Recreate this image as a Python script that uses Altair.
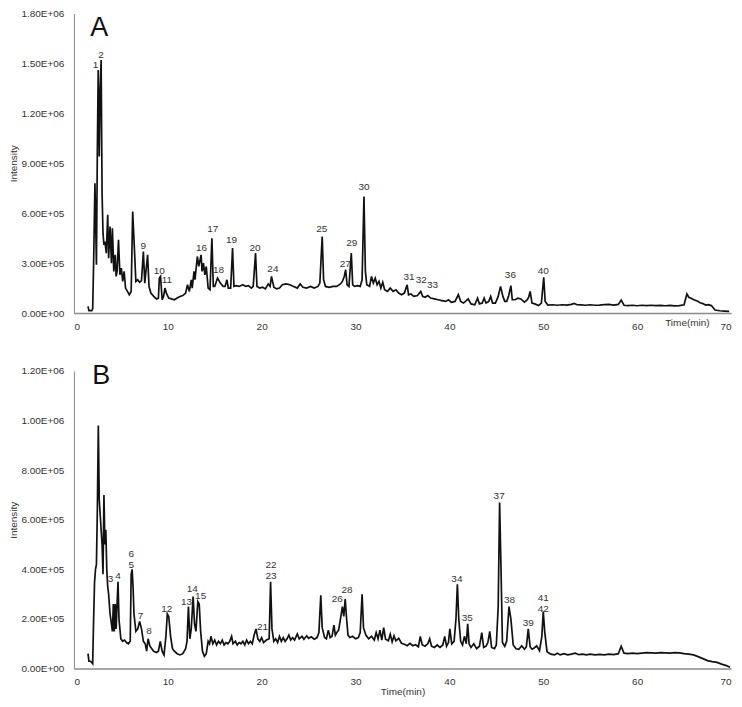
import altair as alt
import pandas as pd

# ---------------- Panel A trace (time in min, intensity in thousands) ----------------
A_TIME = [
    1.5, 1.6, 1.9, 2.0, 2.1, 2.24, 2.4, 2.5, 2.59, 2.65,
    2.7, 2.8, 2.9, 3.0, 3.1, 3.2, 3.3, 3.45, 3.6, 3.7,
    3.85, 4.0, 4.1, 4.25, 4.4, 4.5, 4.6, 4.75, 4.9, 5.05,
    5.2, 5.35, 5.5, 5.7, 5.9, 6.1, 6.26, 6.45, 6.6, 6.8,
    7.0, 7.2, 7.4, 7.55, 7.85, 8.0, 8.2, 8.5, 8.8, 9.0,
    9.1, 9.23, 9.4, 9.55, 9.7, 9.85, 10.1, 10.4, 10.7, 11.0,
    11.3, 11.6, 11.9, 12.1, 12.3, 12.5, 12.6, 12.8, 12.9, 13.15,
    13.3, 13.55, 13.65, 13.8, 13.95, 14.1, 14.3, 14.5, 14.7, 14.85,
    15.0, 15.3, 15.6, 15.9, 16.1, 16.3, 16.45, 16.7, 16.9, 17.05,
    17.3, 17.6, 18.0, 18.3, 18.6, 18.9, 19.1, 19.35, 19.5, 19.8,
    20.1, 20.4, 20.7, 20.9, 21.05, 21.3, 21.6, 21.9, 22.2, 22.6,
    23.0, 23.4, 23.8, 24.1, 24.4, 24.8, 25.2, 25.6, 26.0, 26.2,
    26.45, 26.6, 26.8, 27.2, 27.6, 28.0, 28.4, 28.6, 28.8, 28.95,
    29.1, 29.3, 29.55, 29.7, 29.9, 30.2, 30.5, 30.7, 30.9, 31.05,
    31.2, 31.5, 31.7, 31.9, 32.1, 32.3, 32.5, 32.7, 32.9, 33.1,
    33.4, 33.7, 34.0, 34.3, 34.6, 34.9, 35.2, 35.5, 35.65, 35.9,
    36.2, 36.6, 36.95, 37.15, 37.4, 37.7, 38.0, 38.4, 38.8, 39.2,
    39.6, 39.9, 40.2, 40.6, 40.95, 41.2, 41.5, 41.8, 42.0, 42.3,
    42.7, 43.0, 43.2, 43.5, 43.7, 43.9, 44.2, 44.4, 44.6, 44.9,
    45.2, 45.45, 45.7, 45.9, 46.1, 46.3, 46.55, 46.7, 47.0, 47.3,
    47.6, 48.0, 48.3, 48.45, 48.6, 48.8, 49.1, 49.5, 49.8, 50.05,
    50.2, 50.5, 51.0, 51.5, 52.0, 52.5, 53.0, 53.3, 53.6, 54.0,
    54.5, 55.0, 55.5, 56.0, 56.5, 57.0, 57.5, 58.0, 58.3, 58.6,
    59.0, 59.5, 60.0, 60.5, 61.0, 61.5, 62.0, 62.5, 63.0, 63.5,
    64.0, 64.5, 65.0, 65.3, 65.5, 65.8, 66.1, 66.4, 66.7, 67.0,
    67.3, 67.6, 67.9, 68.3, 68.8, 69.3, 69.8,
]
A_INTENSITY = [
    40, 15, 15, 25, 300, 780, 290, 1000, 1460, 1150,
    940, 1350, 1520, 720, 480, 410, 430, 360, 590, 330,
    520, 300, 510, 250, 350, 220, 250, 440, 230, 270,
    190, 250, 150, 130, 110, 130, 610, 380, 190, 200,
    185, 195, 370, 180, 350, 160, 120, 100, 85, 90,
    210, 220, 80, 100, 150, 120, 90, 85, 80, 90,
    100, 105, 120, 170, 130, 200, 150, 250, 200, 340,
    280, 350, 250, 300, 230, 280, 150, 140, 450, 160,
    160, 210, 180, 160, 160, 200, 150, 150, 390, 160,
    165, 160, 170, 160, 165, 150, 160, 360, 160, 150,
    155, 145, 175, 160, 220, 155, 145, 150, 170, 175,
    170, 160, 150, 175, 155, 150, 160, 150, 160, 180,
    460, 200, 160, 155, 160, 160, 175, 190, 220, 260,
    170, 160, 360, 170, 160, 165, 160, 200, 700, 250,
    170, 160, 220, 180, 210, 170, 190, 150, 185, 140,
    130, 150, 130, 140, 120, 110, 120, 170, 110, 115,
    100, 105, 130, 100, 95, 105, 90, 85, 80, 75,
    70, 80, 65, 70, 110, 70, 60, 75, 85, 55,
    50, 90, 55, 60, 90, 60, 70, 100, 60, 60,
    100, 160, 100, 70, 70, 100, 165, 80, 80, 90,
    85, 65, 80, 95, 130, 60, 55, 45, 60, 215,
    70, 48, 50, 47, 50, 48, 52, 58, 50, 49,
    47, 50, 47, 48, 51, 52, 48, 52, 78, 47,
    45, 47, 44, 47, 45, 47, 45, 46, 44, 46,
    43, 45, 50, 115, 95, 88, 78, 72, 62, 57,
    48, 50, 45, 18, 14, 12, 10,
]

# ---------------- Panel B trace (time in min, intensity in thousands) ----------------
B_TIME = [
    1.5, 1.6, 1.7, 1.9, 2.0, 2.1, 2.2, 2.3, 2.4, 2.5,
    2.6, 2.7, 2.8, 2.9, 3.0, 3.1, 3.2, 3.3, 3.4, 3.5,
    3.6, 3.7, 3.85, 4.0, 4.1, 4.2, 4.3, 4.4, 4.5, 4.6,
    4.7, 4.8, 4.9, 5.0, 5.2, 5.4, 5.6, 5.8, 6.0, 6.1,
    6.2, 6.3, 6.4, 6.6, 6.8, 7.0, 7.2, 7.4, 7.6, 7.75,
    7.9, 8.1, 8.3, 8.5, 8.8, 9.0, 9.2, 9.4, 9.6, 9.8,
    9.95, 10.1, 10.3, 10.5, 10.7, 11.0, 11.3, 11.6, 11.9, 12.05,
    12.2, 12.35, 12.5, 12.7, 12.85, 13.0, 13.2, 13.35, 13.5, 13.7,
    13.9, 14.1, 14.3, 14.45, 14.6, 14.8, 15.0, 15.2, 15.4, 15.6,
    15.8, 16.0, 16.2, 16.4, 16.6, 16.8, 16.95, 17.2, 17.4, 17.6,
    17.8, 18.0, 18.2, 18.4, 18.6, 18.8, 19.0, 19.2, 19.4, 19.6,
    19.8, 20.0, 20.2, 20.5, 20.8, 20.95, 21.1, 21.3, 21.5, 21.7,
    21.9, 22.1, 22.3, 22.5, 22.7, 22.9, 23.1, 23.3, 23.5, 23.8,
    24.0, 24.3, 24.5, 24.8, 25.0, 25.3, 25.6, 25.9, 26.1, 26.3,
    26.45, 26.7, 26.9, 27.1, 27.3, 27.5, 27.7, 27.85, 28.0, 28.2,
    28.4, 28.6, 28.75, 28.9, 29.05, 29.2, 29.4, 29.7, 30.0, 30.3,
    30.5, 30.7, 30.85, 31.1, 31.4, 31.7, 32.0, 32.2, 32.4, 32.6,
    32.8, 33.0, 33.2, 33.5, 33.7, 33.9, 34.1, 34.3, 34.6, 34.9,
    35.2, 35.5, 35.8, 36.1, 36.4, 36.7, 36.9, 37.1, 37.4, 37.7,
    37.9, 38.1, 38.4, 38.7, 39.0, 39.3, 39.5, 39.7, 39.9, 40.05,
    40.25, 40.5, 40.7, 40.85, 41.0, 41.2, 41.4, 41.6, 41.8, 41.95,
    42.1, 42.3, 42.6, 42.9, 43.2, 43.45, 43.65, 43.9, 44.1, 44.3,
    44.5, 44.8, 45.0, 45.2, 45.35, 45.5, 45.65, 45.9, 46.1, 46.35,
    46.55, 46.8, 47.1, 47.4, 47.7, 48.0, 48.2, 48.4, 48.6, 48.8,
    49.0, 49.3, 49.6, 49.85, 50.0, 50.15, 50.4, 50.8, 51.2, 51.5,
    51.8, 52.2, 52.6, 53.0, 53.4, 53.8, 54.2, 54.6, 55.0, 55.5,
    56.0, 56.5, 57.0, 57.5, 58.0, 58.3, 58.6, 59.0, 59.5, 60.0,
    60.5, 61.0, 61.5, 62.0, 62.5, 63.0, 63.5, 64.0, 64.5, 65.0,
    65.5, 66.0, 66.5, 67.0, 67.5, 68.0, 68.5, 69.0, 69.5, 69.9,
]
B_INTENSITY = [
    60, 30, 30, 25, 20, 200, 350, 400, 420, 650,
    980, 680, 620, 560, 500, 380, 700, 500, 560, 400,
    330, 300, 220, 180, 150, 260, 150, 260, 160, 260,
    350, 200, 160, 120, 110, 115, 105, 100, 110, 380,
    400, 330, 220, 150, 160, 190, 160, 110, 100, 70,
    120, 90, 80, 70, 65, 70, 110, 70, 55, 130,
    220, 210, 130, 80, 70, 60, 55, 60, 80, 110,
    250, 120, 160, 290, 180, 150, 270, 260, 150, 70,
    50, 60, 110, 100, 130, 100, 115, 95, 110, 100,
    115, 95, 105, 100, 110, 130, 100, 110, 95, 105,
    100, 110, 95, 115, 100, 110, 100, 135, 160, 120,
    110, 125, 105, 115, 120, 350, 160, 110, 120, 105,
    130, 110, 125, 110, 120, 135, 115, 125, 115, 140,
    120, 130, 118, 132, 122, 128, 118, 125, 145, 295,
    165, 125, 120, 155, 125, 130, 175, 135, 145, 155,
    200, 250, 210, 280, 200, 135, 125, 130, 120, 125,
    145, 300, 165, 135, 120, 130, 115, 145, 120, 155,
    115, 165, 118, 112, 138, 108, 132, 112, 122, 102,
    98, 92, 102, 92, 96, 88, 130, 96, 90, 100,
    120, 90, 85, 95, 85, 95, 130, 90, 105, 160,
    100, 110, 200, 340, 200, 110, 95, 130, 100, 180,
    100, 85, 100, 80, 90, 145, 85, 90, 105, 150,
    85, 80, 95, 250, 670, 400, 105, 90, 110, 250,
    200, 95, 80, 78, 92, 78, 88, 160, 88, 78,
    82, 92, 72, 130, 230, 150, 68, 58, 55, 62,
    55, 60, 55, 58, 62, 56, 58, 55, 58, 55,
    57, 55, 58, 56, 60, 90, 62, 60, 62, 60,
    62, 64, 63, 62, 64, 63, 62, 64, 63, 60,
    58, 55, 48, 40, 32, 28, 25, 18, 12, 5,
]

# ---------------- Peak labels (anchor = bottom of label, data units) ----------------
A_PEAK_IDS = ["1", "2", "9", "10", "11", "16", "17", "18", "19", "20",
              "24", "25", "27", "29", "30", "31", "32", "33", "36", "40"]
A_PEAK_T = [2.3, 2.9, 7.4, 9.1, 9.9, 13.6, 14.8, 15.4, 16.8, 19.3,
            21.2, 26.4, 28.9, 29.6, 30.9, 35.7, 37.0, 38.2, 46.5, 50.0]
A_PEAK_I = [1470, 1530, 384, 236, 183, 372, 484, 242, 419, 372,
            248, 484, 277, 401, 738, 200, 183, 148, 212, 236]

B_PEAK_IDS = ["3", "4", "6\n5", "7", "8", "12", "13", "14", "15", "21",
              "22\n23", "26", "28", "34", "35", "37", "38", "39", "41\n42"]
B_PEAK_T = [3.9, 4.7, 6.1, 7.1, 8.0, 9.9, 12.0, 12.6, 13.5, 20.1,
            21.0, 28.05, 29.1, 40.8, 41.9, 45.3, 46.4, 48.4, 50.0]
B_PEAK_I = [350, 360, 448, 200, 140, 230, 255, 310, 280, 156,
            404, 270, 305, 350, 190, 684, 264, 172, 272]

# ---------------- Axes ----------------
X_TICKS = [0, 10, 20, 30, 40, 50, 60, 70]
A_Y_TICKS = [0, 300000, 600000, 900000, 1200000, 1500000, 1800000]
A_Y_LABELS = ["0.00E+00", "3.00E+05", "6.00E+05", "9.00E+05", "1.20E+06", "1.50E+06", "1.80E+06"]
B_Y_TICKS = [0, 200000, 400000, 600000, 800000, 1000000, 1200000]
B_Y_LABELS = ["0.00E+00", "2.00E+05", "4.00E+05", "6.00E+05", "8.00E+05", "1.00E+06", "1.20E+06"]

PANEL_LETTERS = ["A", "B"]
LETTER_T = [2.7, 2.9]
LETTER_I = [1710, 1180]

FONT = "Liberation Sans"
W = 658


def label_expr(labels, step):
    arr = ",".join("'%s'" % s for s in labels)
    return "[%s][round(datum.value/%d)]" % (arr, step)


def panel(times, ints, ids, pt, pi, letter, lt, li, yticks, ylabels, height, x_title_axis):
    df = pd.DataFrame({"time": times, "intensity": [v * 1000 for v in ints]})
    lab = pd.DataFrame({"time": pt, "intensity": [v * 1000 for v in pi], "id": ids})
    let = pd.DataFrame({"time": [lt], "intensity": [li * 1000], "id": [letter]})
    step = yticks[1] - yticks[0]
    xsc = alt.Scale(domain=[0, 70], nice=False, zero=False)
    ysc = alt.Scale(domain=[0, yticks[-1]], nice=False)
    x = alt.X("time:Q", scale=xsc, title="Time(min)", axis=x_title_axis)
    y = alt.Y("intensity:Q", scale=ysc, title="Intensity",
              axis=alt.Axis(values=yticks, labelExpr=label_expr(ylabels, step),
                            ticks=False, grid=False, domainColor="#8a8a8a",
                            domainWidth=1, labelFont=FONT, labelFontSize=10,
                            labelColor="#333333", labelPadding=10,
                            titleFont=FONT, titleFontSize=10, titleFontWeight="normal",
                            titleColor="#333333", titlePadding=2))
    line = alt.Chart(df).mark_line(color="#111111", strokeWidth=1.7, interpolate="linear").encode(
        x=x, y=y)
    text = alt.Chart(lab).mark_text(font=FONT, fontSize=10, color="#333333",
                                    baseline="alphabetic", align="center",
                                    lineBreak="\n", lineHeight=11).encode(
        x="time:Q", y="intensity:Q", text="id:N")
    letter_mark = alt.Chart(let).mark_text(font=FONT, fontSize=27, color="#111111",
                                           baseline="middle", align="center").encode(
        x="time:Q", y="intensity:Q", text="id:N")
    return alt.layer(line, text, letter_mark).properties(width=W, height=height)


axis_common = dict(values=X_TICKS, ticks=False, grid=False, domainColor="#8a8a8a",
                   domainWidth=1.5, labelFont=FONT, labelFontSize=10,
                   labelColor="#333333", labelPadding=8, titleFont=FONT,
                   titleFontSize=10, titleFontWeight="normal", titleColor="#333333")

axA = alt.Axis(**axis_common, titleX=W * 65.3 / 70, titleY=9, titleAlign="center",
               titleBaseline="middle")
axB = alt.Axis(**axis_common, titleX=W / 2, titleY=18, titleAlign="center",
               titleBaseline="top")

pA = panel(A_TIME, A_INTENSITY, A_PEAK_IDS, A_PEAK_T, A_PEAK_I,
           PANEL_LETTERS[0], LETTER_T[0], LETTER_I[0], A_Y_TICKS, A_Y_LABELS, 300, axA)
pB = panel(B_TIME, B_INTENSITY, B_PEAK_IDS, B_PEAK_T, B_PEAK_I,
           PANEL_LETTERS[1], LETTER_T[1], LETTER_I[1], B_Y_TICKS, B_Y_LABELS, 298, axB)

chart = alt.vconcat(pA, pB, spacing=30).properties(
    padding={"left": 0, "right": 0, "top": 0, "bottom": 0},
    background="white",
).configure_view(stroke=None)

chart.save("out.html", embed_options={"renderer": "svg", "actions": False})
